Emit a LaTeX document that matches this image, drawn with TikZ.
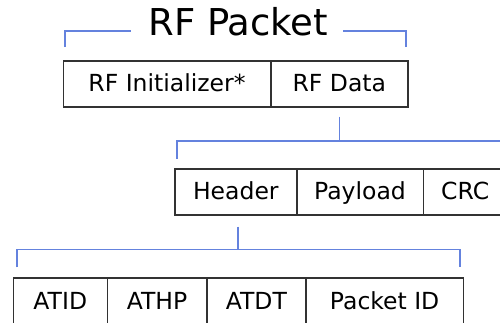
\documentclass[tikz,border=0pt]{standalone}
\usepackage{fontspec}
\setmainfont{DejaVu Sans}
\usetikzlibrary{positioning}
\definecolor{bracketblue}{RGB}{100,130,222}
\definecolor{cellgray}{RGB}{50,50,50}
\tikzset{
    cell/.style={draw=cellgray, line width=1.6pt, minimum height=46pt,
        inner sep=0pt, outer sep=0pt, text height=16pt, text depth=0pt,
        font=\fontsize{23.5}{26}\selectfont},
    bracket/.style={draw=bracketblue, line width=1.7pt},
    title/.style={inner sep=0pt, font=\fontsize{37}{40}\selectfont}
}
\begin{document}
\begin{tikzpicture}[x=1pt, y=1pt]
    \useasboundingbox (0,0) rectangle (500,-322);
    % RF packet
    \node[title, anchor=base] (title) at (238.3,-35.7) {RF Packet};
    \node[cell, minimum width=207.4pt, anchor=west] (init) at (63.3,-83.9) {RF Initializer*};
    \node[cell, minimum width=137.3pt, right=0pt of init] (data) {RF Data};
    % RF data
    \node[cell, minimum width=121.7pt, anchor=west] (header) at (175,-191.8) {Header};
    \node[cell, minimum width=126.6pt, right=0pt of header] (payload) {Payload};
    \node[cell, minimum width=83.7pt, right=0pt of payload] (crc) {CRC};
    % header
    \node[cell, minimum width=94pt, anchor=west] (atid) at (13.3,-301) {ATID};
    \node[cell, minimum width=99.4pt, right=0pt of atid] (athp) {ATHP};
    \node[cell, minimum width=99.3pt, right=0pt of athp] (atdt) {ATDT};
    \node[cell, minimum width=157.3pt, right=0pt of atdt] (pktid) {Packet ID};

    % brackets
    \coordinate (pktL) at (130.7,-30.7);
    \coordinate (pktR) at (343.3,-30.7);
    \coordinate (br2) at (0,-140.7);
    \coordinate (br3) at (0,-249.5);
    \draw[bracket] ([xshift=1.7pt, yshift=13.7pt]init.north west) |- (pktL);
    \draw[bracket] ([xshift=-2.3pt, yshift=13.7pt]data.north east) |- (pktR);

    \draw[bracket] ([yshift=-9.7pt]data.south) -- (data.south |- br2);
    \draw[bracket] ([xshift=1.7pt, yshift=10.3pt]header.north west) |- (br2 -| crc.east);

    \draw[bracket] ([xshift=2.4pt, yshift=-11.7pt]header.south) -- ([xshift=2.4pt]header.south |- br3);
    \draw[bracket] ([xshift=3.7pt, yshift=10.6pt]atid.north west) |- ([xshift=-3.3pt]pktid.north east |- br3)
        -- ([xshift=-3.3pt, yshift=10.6pt]pktid.north east);
\end{tikzpicture}
\end{document}
